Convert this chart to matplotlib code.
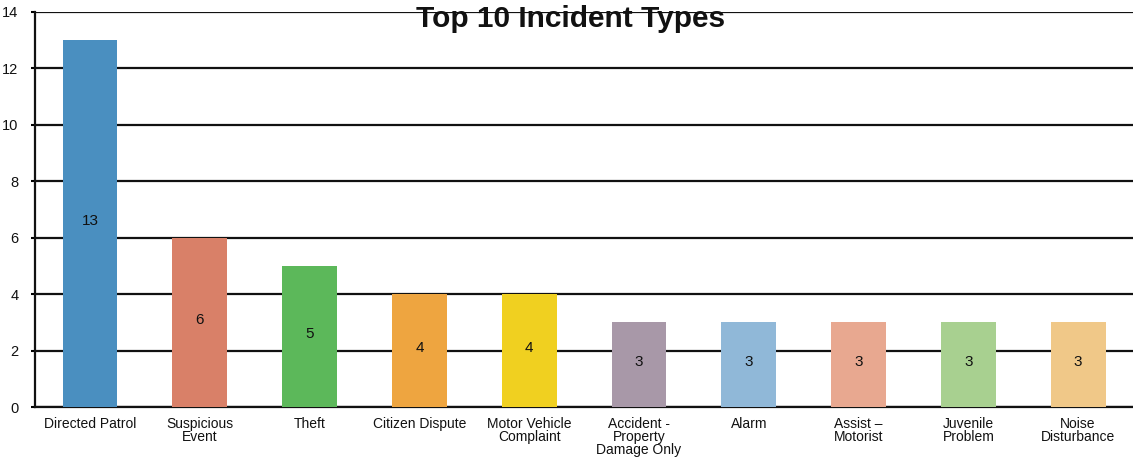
import matplotlib
matplotlib.use("Agg")
import matplotlib.pyplot as plt

categories = ["Directed Patrol", "Suspicious\nEvent", "Theft", "Citizen Dispute",
              "Motor Vehicle\nComplaint", "Accident -\nProperty\nDamage Only", "Alarm",
              "Assist \u2013\nMotorist", "Juvenile\nProblem", "Noise\nDisturbance"]
values = [13, 6, 5, 4, 4, 3, 3, 3, 3, 3]
colors = ["#4a8fc0", "#d98068", "#5cb85a", "#eea540", "#f0d020",
          "#a898a8", "#90b8d8", "#e8a890", "#a8d090", "#f0c888"]
yticks = [0, 2, 4, 6, 8, 10, 12, 14]

plt.rcParams['font.family'] = ['Liberation Sans', 'DejaVu Sans']

fig = plt.figure(figsize=(11.33, 4.61), dpi=100)
ax = fig.add_axes([0.031, 0.117, 0.969, 0.857])

x = list(range(len(categories)))
bars = ax.bar(x, values, width=0.5, color=colors, zorder=3)
for xi, v in zip(x, values):
    ax.text(xi, v / 2 + 0.1, str(v), ha='center', va='center', fontsize=11,
            color='#111111', zorder=4)

ax.set_xlim(-0.5, len(categories) - 0.5)
ax.set_ylim(0, 14)
ax.set_yticks(yticks)
ax.set_yticklabels([str(t) for t in yticks], fontsize=10.5, color='#111111')
ax.set_xticks(x)
ax.set_xticklabels(categories, fontsize=10, linespacing=0.92, color='#111111')
ax.tick_params(axis='x', length=0, pad=7)
ax.tick_params(axis='y', length=3, width=1.5, pad=9)

ax.grid(axis='y', color='#111111', linewidth=1.6, zorder=1)
ax.set_axisbelow(True)
for s in ['top', 'right']:
    ax.spines[s].set_visible(False)
ax.spines['left'].set_linewidth(1.6)
ax.spines['bottom'].set_linewidth(1.6)
ax.spines['left'].set_color('#111111')
ax.spines['bottom'].set_color('#111111')

fig.text(0.504, 0.958, "Top 10 Incident Types", ha='center', va='center',
         fontsize=21.5, fontweight='bold', color='#111111')

fig.savefig("out.png", dpi=100)
